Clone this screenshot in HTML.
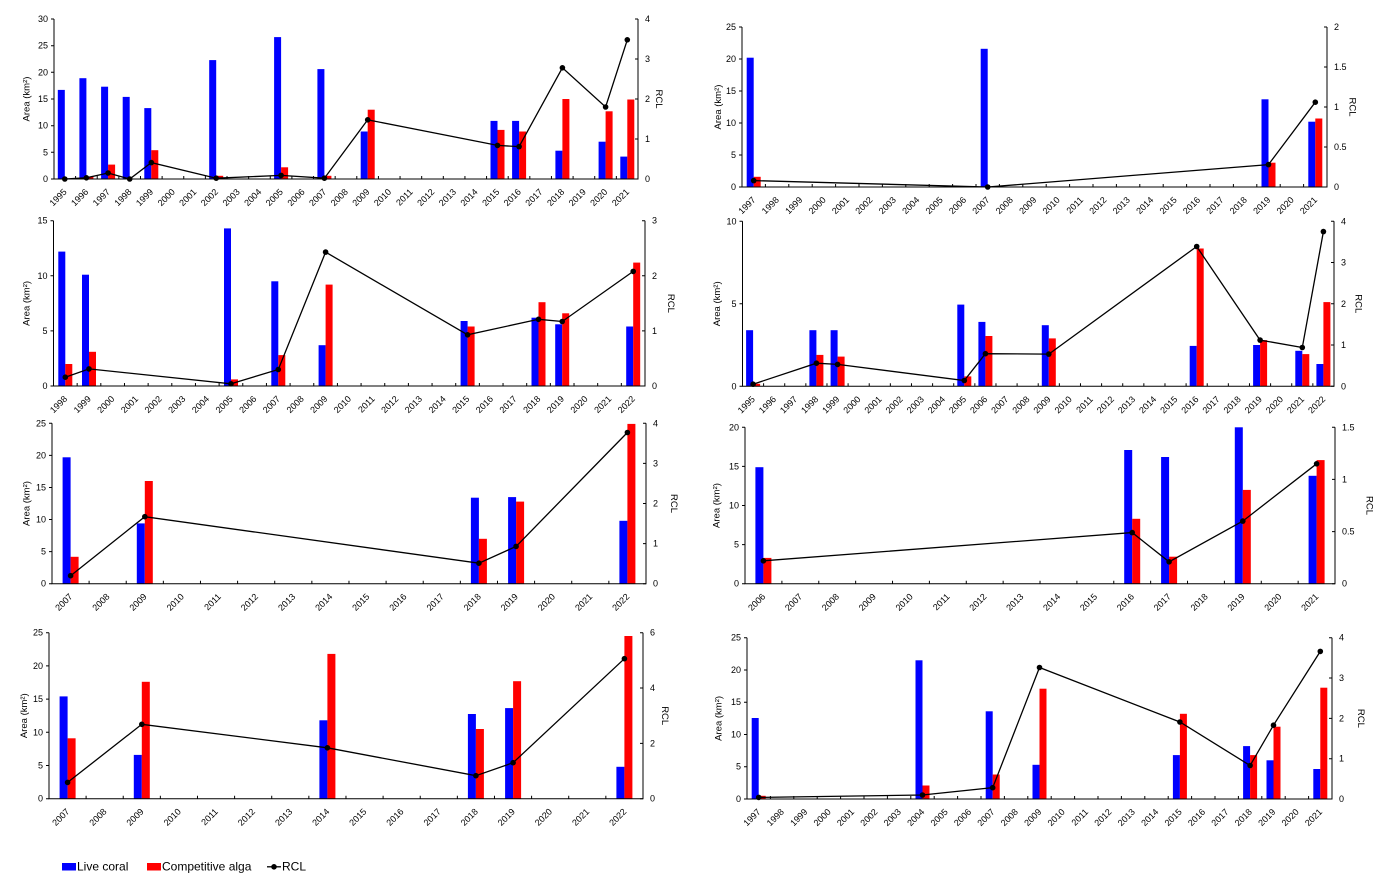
<!DOCTYPE html>
<html><head><meta charset="utf-8"><style>
html,body{margin:0;padding:0;background:#fff;}
svg{display:block;}
text{font-family:"Liberation Sans",Arial,sans-serif;font-size:9px;fill:#000;}
.xl{text-anchor:end;}
.yl{text-anchor:end;}
.yr{text-anchor:start;}
.t{text-anchor:middle;font-size:9.5px;}
.ax{fill:none;stroke:#000;stroke-width:1;}
.tk{fill:none;stroke:#000;stroke-width:1;}
.b{fill:#0000ff;}
.r{fill:#ff0000;}
.ln{fill:none;stroke:#000;stroke-width:1.3;}
.dot{fill:#000;}
.lg{font-size:12px;}
</style></head><body>
<svg width="1386" height="889" viewBox="0 0 1386 889" xmlns="http://www.w3.org/2000/svg">
<rect width="1386" height="889" fill="#fff"/>

<!-- ================= PANEL 1 ================= -->
<g>
<rect class="b" x="57.8" y="89.9" width="7" height="89.1"/>
<rect class="b" x="79.4" y="78.2" width="7" height="100.8"/>
<rect class="b" x="101.1" y="86.7" width="7" height="92.3"/>
<rect class="b" x="122.7" y="96.9" width="7" height="82.1"/>
<rect class="b" x="144.3" y="108.1" width="7" height="70.9"/>
<rect class="b" x="209.2" y="60.1" width="7" height="118.9"/>
<rect class="b" x="274.1" y="37.1" width="7" height="141.9"/>
<rect class="b" x="317.4" y="69.1" width="7" height="109.9"/>
<rect class="b" x="360.7" y="131.5" width="7" height="47.5"/>
<rect class="b" x="490.5" y="120.9" width="7" height="58.1"/>
<rect class="b" x="512.1" y="120.9" width="7" height="58.1"/>
<rect class="b" x="555.4" y="150.7" width="7" height="28.3"/>
<rect class="b" x="598.6" y="141.7" width="7" height="37.3"/>
<rect class="b" x="620.3" y="156.6" width="7" height="22.4"/>
<rect class="r" x="86.4" y="176.9" width="7" height="2.1"/>
<rect class="r" x="108.1" y="164.6" width="7" height="14.4"/>
<rect class="r" x="151.3" y="150.2" width="7" height="28.8"/>
<rect class="r" x="216.2" y="175.8" width="7" height="3.2"/>
<rect class="r" x="281.1" y="167.3" width="7" height="11.7"/>
<rect class="r" x="324.4" y="175.8" width="7" height="3.2"/>
<rect class="r" x="367.7" y="109.7" width="7" height="69.3"/>
<rect class="r" x="497.5" y="129.9" width="7" height="49.1"/>
<rect class="r" x="519.1" y="131.5" width="7" height="47.5"/>
<rect class="r" x="562.4" y="99" width="7" height="80"/>
<rect class="r" x="605.6" y="111.3" width="7" height="67.7"/>
<rect class="r" x="627.3" y="99.5" width="7" height="79.5"/>
<path class="ax" d="M54,19 V179 H638 V19"/>
<path class="tk" d="M51,179H54M51,152.3H54M51,125.7H54M51,99H54M51,72.3H54M51,45.7H54M51,19H54M635,179H638M635,139H638M635,99H638M635,59H638M635,19H638"/>
<line x1="75.1" y1="177.5" x2="637" y2="177.5" stroke="#000" stroke-width="3" stroke-dasharray="1 20.63"/>
<polyline class="ln" points="64.8,179 86.4,177.8 108.1,173 129.7,179 151.3,162.6 216.2,178.2 281.1,175.4 324.4,178.2 367.7,119.8 497.5,145.4 519.1,146.6 562.4,67.8 605.6,107 627.3,39.8"/>
<g class="dot"><circle cx="64.8" cy="179" r="2.8"/><circle cx="86.4" cy="177.8" r="2.8"/><circle cx="108.1" cy="173" r="2.8"/><circle cx="129.7" cy="179" r="2.8"/><circle cx="151.3" cy="162.6" r="2.8"/><circle cx="216.2" cy="178.2" r="2.8"/><circle cx="281.1" cy="175.4" r="2.8"/><circle cx="324.4" cy="178.2" r="2.8"/><circle cx="367.7" cy="119.8" r="2.8"/><circle cx="497.5" cy="145.4" r="2.8"/><circle cx="519.1" cy="146.6" r="2.8"/><circle cx="562.4" cy="67.8" r="2.8"/><circle cx="605.6" cy="107" r="2.8"/><circle cx="627.3" cy="39.8" r="2.8"/></g>
<text class="yl" x="48" y="182">0</text><text class="yl" x="48" y="155.3">5</text><text class="yl" x="48" y="128.7">10</text><text class="yl" x="48" y="102">15</text><text class="yl" x="48" y="75.3">20</text><text class="yl" x="48" y="48.7">25</text><text class="yl" x="48" y="22">30</text>
<text class="yr" x="645" y="182">0</text><text class="yr" x="645" y="142">1</text><text class="yr" x="645" y="102">2</text><text class="yr" x="645" y="62">3</text><text class="yr" x="645" y="22">4</text>
<text class="t" transform="translate(29.5,99) rotate(-90)">Area (km²)</text>
<text class="t" transform="translate(656.2,99) rotate(90)">RCL</text>
<text class="xl" transform="translate(67.3,192.5) rotate(-45)">1995</text>
<text class="xl" transform="translate(88.9,192.5) rotate(-45)">1996</text>
<text class="xl" transform="translate(110.6,192.5) rotate(-45)">1997</text>
<text class="xl" transform="translate(132.2,192.5) rotate(-45)">1998</text>
<text class="xl" transform="translate(153.8,192.5) rotate(-45)">1999</text>
<text class="xl" transform="translate(175.5,192.5) rotate(-45)">2000</text>
<text class="xl" transform="translate(197.1,192.5) rotate(-45)">2001</text>
<text class="xl" transform="translate(218.7,192.5) rotate(-45)">2002</text>
<text class="xl" transform="translate(240.4,192.5) rotate(-45)">2003</text>
<text class="xl" transform="translate(262,192.5) rotate(-45)">2004</text>
<text class="xl" transform="translate(283.6,192.5) rotate(-45)">2005</text>
<text class="xl" transform="translate(305.3,192.5) rotate(-45)">2006</text>
<text class="xl" transform="translate(326.9,192.5) rotate(-45)">2007</text>
<text class="xl" transform="translate(348.5,192.5) rotate(-45)">2008</text>
<text class="xl" transform="translate(370.2,192.5) rotate(-45)">2009</text>
<text class="xl" transform="translate(391.8,192.5) rotate(-45)">2010</text>
<text class="xl" transform="translate(413.4,192.5) rotate(-45)">2011</text>
<text class="xl" transform="translate(435.1,192.5) rotate(-45)">2012</text>
<text class="xl" transform="translate(456.7,192.5) rotate(-45)">2013</text>
<text class="xl" transform="translate(478.3,192.5) rotate(-45)">2014</text>
<text class="xl" transform="translate(500,192.5) rotate(-45)">2015</text>
<text class="xl" transform="translate(521.6,192.5) rotate(-45)">2016</text>
<text class="xl" transform="translate(543.2,192.5) rotate(-45)">2017</text>
<text class="xl" transform="translate(564.9,192.5) rotate(-45)">2018</text>
<text class="xl" transform="translate(586.5,192.5) rotate(-45)">2019</text>
<text class="xl" transform="translate(608.1,192.5) rotate(-45)">2020</text>
<text class="xl" transform="translate(629.8,192.5) rotate(-45)">2021</text>
</g>

<!-- ================= PANEL 2 ================= -->
<g>
<rect class="b" x="746.7" y="57.7" width="7" height="129.3"/>
<rect class="b" x="980.7" y="48.8" width="7" height="138.2"/>
<rect class="b" x="1261.5" y="99.3" width="7" height="87.7"/>
<rect class="b" x="1308.3" y="121.7" width="7" height="65.3"/>
<rect class="r" x="753.7" y="176.8" width="7" height="10.2"/>
<rect class="r" x="1268.5" y="162.7" width="7" height="24.3"/>
<rect class="r" x="1315.3" y="118.5" width="7" height="68.5"/>
<path class="ax" d="M742,27 V187 H1327 V27"/>
<path class="tk" d="M739,187H742M739,155H742M739,123H742M739,91H742M739,59H742M739,27H742M1324,187H1327M1324,147H1327M1324,107H1327M1324,67H1327M1324,27H1327"/>
<line x1="764.9" y1="185.5" x2="1326" y2="185.5" stroke="#000" stroke-width="3" stroke-dasharray="1 22.4"/>
<polyline class="ln" points="753.7,180.6 987.7,187 1268.5,164.6 1315.3,102.2"/>
<g class="dot"><circle cx="753.7" cy="180.6" r="2.8"/><circle cx="987.7" cy="187" r="2.8"/><circle cx="1268.5" cy="164.6" r="2.8"/><circle cx="1315.3" cy="102.2" r="2.8"/></g>
<text class="yl" x="736" y="190">0</text><text class="yl" x="736" y="158">5</text><text class="yl" x="736" y="126">10</text><text class="yl" x="736" y="94">15</text><text class="yl" x="736" y="62">20</text><text class="yl" x="736" y="30">25</text>
<text class="yr" x="1334" y="190">0</text><text class="yr" x="1334" y="150">0.5</text><text class="yr" x="1334" y="110">1</text><text class="yr" x="1334" y="70">1.5</text><text class="yr" x="1334" y="30">2</text>
<text class="t" transform="translate(720.8,107) rotate(-90)">Area (km²)</text>
<text class="t" transform="translate(1349.7,107) rotate(90)">RCL</text>
<text class="xl" transform="translate(756.2,200.5) rotate(-45)">1997</text>
<text class="xl" transform="translate(779.6,200.5) rotate(-45)">1998</text>
<text class="xl" transform="translate(803,200.5) rotate(-45)">1999</text>
<text class="xl" transform="translate(826.4,200.5) rotate(-45)">2000</text>
<text class="xl" transform="translate(849.8,200.5) rotate(-45)">2001</text>
<text class="xl" transform="translate(873.2,200.5) rotate(-45)">2002</text>
<text class="xl" transform="translate(896.6,200.5) rotate(-45)">2003</text>
<text class="xl" transform="translate(920,200.5) rotate(-45)">2004</text>
<text class="xl" transform="translate(943.4,200.5) rotate(-45)">2005</text>
<text class="xl" transform="translate(966.8,200.5) rotate(-45)">2006</text>
<text class="xl" transform="translate(990.2,200.5) rotate(-45)">2007</text>
<text class="xl" transform="translate(1013.6,200.5) rotate(-45)">2008</text>
<text class="xl" transform="translate(1037,200.5) rotate(-45)">2009</text>
<text class="xl" transform="translate(1060.4,200.5) rotate(-45)">2010</text>
<text class="xl" transform="translate(1083.8,200.5) rotate(-45)">2011</text>
<text class="xl" transform="translate(1107.2,200.5) rotate(-45)">2012</text>
<text class="xl" transform="translate(1130.6,200.5) rotate(-45)">2013</text>
<text class="xl" transform="translate(1154,200.5) rotate(-45)">2014</text>
<text class="xl" transform="translate(1177.4,200.5) rotate(-45)">2015</text>
<text class="xl" transform="translate(1200.8,200.5) rotate(-45)">2016</text>
<text class="xl" transform="translate(1224.2,200.5) rotate(-45)">2017</text>
<text class="xl" transform="translate(1247.6,200.5) rotate(-45)">2018</text>
<text class="xl" transform="translate(1271,200.5) rotate(-45)">2019</text>
<text class="xl" transform="translate(1294.4,200.5) rotate(-45)">2020</text>
<text class="xl" transform="translate(1317.8,200.5) rotate(-45)">2021</text>
</g>

<!-- ================= PANEL 3 ================= -->
<g>
<rect class="b" x="58.3" y="251.6" width="7" height="134.4"/>
<rect class="b" x="82" y="274.7" width="7" height="111.3"/>
<rect class="b" x="224" y="228.4" width="7" height="157.6"/>
<rect class="b" x="271.3" y="281.3" width="7" height="104.7"/>
<rect class="b" x="318.6" y="345.2" width="7" height="40.8"/>
<rect class="b" x="460.6" y="321" width="7" height="65"/>
<rect class="b" x="531.5" y="317.7" width="7" height="68.3"/>
<rect class="b" x="555.2" y="324.3" width="7" height="61.7"/>
<rect class="b" x="626.2" y="326.5" width="7" height="59.5"/>
<rect class="r" x="65.3" y="364" width="7" height="22"/>
<rect class="r" x="89" y="351.8" width="7" height="34.2"/>
<rect class="r" x="231" y="379.4" width="7" height="6.6"/>
<rect class="r" x="278.3" y="355.1" width="7" height="30.9"/>
<rect class="r" x="325.6" y="284.6" width="7" height="101.4"/>
<rect class="r" x="467.6" y="326.5" width="7" height="59.5"/>
<rect class="r" x="538.5" y="302.2" width="7" height="83.8"/>
<rect class="r" x="562.2" y="313.3" width="7" height="72.7"/>
<rect class="r" x="633.2" y="262.6" width="7" height="123.4"/>
<path class="ax" d="M53.5,220.7 V386 H645 V220.7"/>
<path class="tk" d="M50.5,386H53.5M50.5,330.9H53.5M50.5,275.8H53.5M50.5,220.7H53.5M642,386H645M642,330.9H645M642,275.8H645M642,220.7H645"/>
<line x1="76.66" y1="384.5" x2="644" y2="384.5" stroke="#000" stroke-width="3" stroke-dasharray="1 22.66"/>
<polyline class="ln" points="65.3,377.2 89,368.9 231,383.8 278.3,369.5 325.6,252.1 467.6,334.8 538.5,319.3 562.2,321.5 633.2,271.4"/>
<g class="dot"><circle cx="65.3" cy="377.2" r="2.8"/><circle cx="89" cy="368.9" r="2.8"/><circle cx="231" cy="383.8" r="2.8"/><circle cx="278.3" cy="369.5" r="2.8"/><circle cx="325.6" cy="252.1" r="2.8"/><circle cx="467.6" cy="334.8" r="2.8"/><circle cx="538.5" cy="319.3" r="2.8"/><circle cx="562.2" cy="321.5" r="2.8"/><circle cx="633.2" cy="271.4" r="2.8"/></g>
<text class="yl" x="47.5" y="389">0</text><text class="yl" x="47.5" y="333.9">5</text><text class="yl" x="47.5" y="278.8">10</text><text class="yl" x="47.5" y="223.7">15</text>
<text class="yr" x="652" y="389">0</text><text class="yr" x="652" y="333.9">1</text><text class="yr" x="652" y="278.8">2</text><text class="yr" x="652" y="223.7">3</text>
<text class="t" transform="translate(29.3,303.4) rotate(-90)">Area (km²)</text>
<text class="t" transform="translate(668.2,303.4) rotate(90)">RCL</text>
<text class="xl" transform="translate(67.8,399.5) rotate(-45)">1998</text>
<text class="xl" transform="translate(91.5,399.5) rotate(-45)">1999</text>
<text class="xl" transform="translate(115.1,399.5) rotate(-45)">2000</text>
<text class="xl" transform="translate(138.8,399.5) rotate(-45)">2001</text>
<text class="xl" transform="translate(162.4,399.5) rotate(-45)">2002</text>
<text class="xl" transform="translate(186.1,399.5) rotate(-45)">2003</text>
<text class="xl" transform="translate(209.8,399.5) rotate(-45)">2004</text>
<text class="xl" transform="translate(233.4,399.5) rotate(-45)">2005</text>
<text class="xl" transform="translate(257.1,399.5) rotate(-45)">2006</text>
<text class="xl" transform="translate(280.7,399.5) rotate(-45)">2007</text>
<text class="xl" transform="translate(304.4,399.5) rotate(-45)">2008</text>
<text class="xl" transform="translate(328.1,399.5) rotate(-45)">2009</text>
<text class="xl" transform="translate(351.7,399.5) rotate(-45)">2010</text>
<text class="xl" transform="translate(375.4,399.5) rotate(-45)">2011</text>
<text class="xl" transform="translate(399,399.5) rotate(-45)">2012</text>
<text class="xl" transform="translate(422.7,399.5) rotate(-45)">2013</text>
<text class="xl" transform="translate(446.4,399.5) rotate(-45)">2014</text>
<text class="xl" transform="translate(470,399.5) rotate(-45)">2015</text>
<text class="xl" transform="translate(493.7,399.5) rotate(-45)">2016</text>
<text class="xl" transform="translate(517.3,399.5) rotate(-45)">2017</text>
<text class="xl" transform="translate(541,399.5) rotate(-45)">2018</text>
<text class="xl" transform="translate(564.7,399.5) rotate(-45)">2019</text>
<text class="xl" transform="translate(588.3,399.5) rotate(-45)">2020</text>
<text class="xl" transform="translate(612,399.5) rotate(-45)">2021</text>
<text class="xl" transform="translate(635.6,399.5) rotate(-45)">2022</text>
</g>

<!-- ================= PANEL 4 ================= -->
<g>
<rect class="b" x="746.1" y="330.2" width="7" height="56.1"/>
<rect class="b" x="809.4" y="330.2" width="7" height="56.1"/>
<rect class="b" x="830.6" y="330.2" width="7" height="56.1"/>
<rect class="b" x="957.3" y="304.6" width="7" height="81.7"/>
<rect class="b" x="978.4" y="321.9" width="7" height="64.4"/>
<rect class="b" x="1041.8" y="325.2" width="7" height="61.1"/>
<rect class="b" x="1189.7" y="345.9" width="7" height="40.4"/>
<rect class="b" x="1253.1" y="345" width="7" height="41.3"/>
<rect class="b" x="1295.3" y="350.8" width="7" height="35.5"/>
<rect class="b" x="1316.4" y="364" width="7" height="22.3"/>
<rect class="r" x="753.1" y="383.8" width="7" height="2.5"/>
<rect class="r" x="816.4" y="354.9" width="7" height="31.4"/>
<rect class="r" x="837.6" y="356.6" width="7" height="29.7"/>
<rect class="r" x="964.3" y="376.4" width="7" height="9.9"/>
<rect class="r" x="985.4" y="336" width="7" height="50.3"/>
<rect class="r" x="1048.8" y="338.4" width="7" height="47.9"/>
<rect class="r" x="1196.7" y="248.5" width="7" height="137.8"/>
<rect class="r" x="1260.1" y="340.1" width="7" height="46.2"/>
<rect class="r" x="1302.3" y="354.1" width="7" height="32.2"/>
<rect class="r" x="1323.4" y="302.1" width="7" height="84.2"/>
<path class="ax" d="M742.5,221.3 V386.3 H1334 V221.3"/>
<path class="tk" d="M739.5,386.3H742.5M739.5,303.8H742.5M739.5,221.3H742.5M1331,386.3H1334M1331,345H1334M1331,303.8H1334M1331,262.5H1334M1331,221.3H1334"/>
<line x1="763.1" y1="384.8" x2="1333" y2="384.8" stroke="#000" stroke-width="3" stroke-dasharray="1 20.125"/>
<polyline class="ln" points="753.1,384.2 816.4,363.2 837.6,364.4 964.3,380.5 985.4,353.7 1048.8,354.1 1196.7,246.5 1260.1,340.1 1302.3,347.5 1323.4,231.6"/>
<g class="dot"><circle cx="753.1" cy="384.2" r="2.8"/><circle cx="816.4" cy="363.2" r="2.8"/><circle cx="837.6" cy="364.4" r="2.8"/><circle cx="964.3" cy="380.5" r="2.8"/><circle cx="985.4" cy="353.7" r="2.8"/><circle cx="1048.8" cy="354.1" r="2.8"/><circle cx="1196.7" cy="246.5" r="2.8"/><circle cx="1260.1" cy="340.1" r="2.8"/><circle cx="1302.3" cy="347.5" r="2.8"/><circle cx="1323.4" cy="231.6" r="2.8"/></g>
<text class="yl" x="736.5" y="389.3">0</text><text class="yl" x="736.5" y="306.8">5</text><text class="yl" x="736.5" y="224.3">10</text>
<text class="yr" x="1341" y="389.3">0</text><text class="yr" x="1341" y="348">1</text><text class="yr" x="1341" y="306.8">2</text><text class="yr" x="1341" y="265.5">3</text><text class="yr" x="1341" y="224.3">4</text>
<text class="t" transform="translate(719.8,303.8) rotate(-90)">Area (km²)</text>
<text class="t" transform="translate(1355.7,303.8) rotate(90)">RCL</text>
<text class="xl" transform="translate(755.6,399.8) rotate(-45)">1995</text>
<text class="xl" transform="translate(776.7,399.8) rotate(-45)">1996</text>
<text class="xl" transform="translate(797.8,399.8) rotate(-45)">1997</text>
<text class="xl" transform="translate(818.9,399.8) rotate(-45)">1998</text>
<text class="xl" transform="translate(840.1,399.8) rotate(-45)">1999</text>
<text class="xl" transform="translate(861.2,399.8) rotate(-45)">2000</text>
<text class="xl" transform="translate(882.3,399.8) rotate(-45)">2001</text>
<text class="xl" transform="translate(903.4,399.8) rotate(-45)">2002</text>
<text class="xl" transform="translate(924.6,399.8) rotate(-45)">2003</text>
<text class="xl" transform="translate(945.7,399.8) rotate(-45)">2004</text>
<text class="xl" transform="translate(966.8,399.8) rotate(-45)">2005</text>
<text class="xl" transform="translate(987.9,399.8) rotate(-45)">2006</text>
<text class="xl" transform="translate(1009.1,399.8) rotate(-45)">2007</text>
<text class="xl" transform="translate(1030.2,399.8) rotate(-45)">2008</text>
<text class="xl" transform="translate(1051.3,399.8) rotate(-45)">2009</text>
<text class="xl" transform="translate(1072.4,399.8) rotate(-45)">2010</text>
<text class="xl" transform="translate(1093.6,399.8) rotate(-45)">2011</text>
<text class="xl" transform="translate(1114.7,399.8) rotate(-45)">2012</text>
<text class="xl" transform="translate(1135.8,399.8) rotate(-45)">2013</text>
<text class="xl" transform="translate(1156.9,399.8) rotate(-45)">2014</text>
<text class="xl" transform="translate(1178.1,399.8) rotate(-45)">2015</text>
<text class="xl" transform="translate(1199.2,399.8) rotate(-45)">2016</text>
<text class="xl" transform="translate(1220.3,399.8) rotate(-45)">2017</text>
<text class="xl" transform="translate(1241.4,399.8) rotate(-45)">2018</text>
<text class="xl" transform="translate(1262.6,399.8) rotate(-45)">2019</text>
<text class="xl" transform="translate(1283.7,399.8) rotate(-45)">2020</text>
<text class="xl" transform="translate(1304.8,399.8) rotate(-45)">2021</text>
<text class="xl" transform="translate(1325.9,399.8) rotate(-45)">2022</text>
</g>

<!-- ================= PANEL 5 ================= -->
<g>
<rect class="b" x="62.6" y="457.3" width="8" height="126.4"/>
<rect class="b" x="136.8" y="523.4" width="8" height="60.3"/>
<rect class="b" x="470.9" y="497.7" width="8" height="86"/>
<rect class="b" x="508.1" y="497.1" width="8" height="86.6"/>
<rect class="b" x="619.4" y="520.8" width="8" height="62.9"/>
<rect class="r" x="70.6" y="556.8" width="8" height="26.9"/>
<rect class="r" x="144.8" y="481" width="8" height="102.7"/>
<rect class="r" x="478.9" y="538.8" width="8" height="44.9"/>
<rect class="r" x="516.1" y="501.6" width="8" height="82.1"/>
<rect class="r" x="627.4" y="423.9" width="8" height="159.8"/>
<path class="ax" d="M52,423.3 V583.7 H646 V423.3"/>
<path class="tk" d="M49,583.7H52M49,551.6H52M49,519.5H52M49,487.5H52M49,455.4H52M49,423.3H52M643,583.7H646M643,543.6H646M643,503.5H646M643,463.4H646M643,423.3H646"/>
<line x1="88.6" y1="582.2" x2="645" y2="582.2" stroke="#000" stroke-width="3" stroke-dasharray="1 36.125"/>
<polyline class="ln" points="70.6,575.7 144.8,516.7 478.9,563.2 516.1,546.4 627.4,432.5"/>
<g class="dot"><circle cx="70.6" cy="575.7" r="2.8"/><circle cx="144.8" cy="516.7" r="2.8"/><circle cx="478.9" cy="563.2" r="2.8"/><circle cx="516.1" cy="546.4" r="2.8"/><circle cx="627.4" cy="432.5" r="2.8"/></g>
<text class="yl" x="46" y="586.7">0</text><text class="yl" x="46" y="554.6">5</text><text class="yl" x="46" y="522.5">10</text><text class="yl" x="46" y="490.5">15</text><text class="yl" x="46" y="458.4">20</text><text class="yl" x="46" y="426.3">25</text>
<text class="yr" x="653" y="586.7">0</text><text class="yr" x="653" y="546.6">1</text><text class="yr" x="653" y="506.5">2</text><text class="yr" x="653" y="466.4">3</text><text class="yr" x="653" y="426.3">4</text>
<text class="t" transform="translate(29.3,503.5) rotate(-90)">Area (km²)</text>
<text class="t" transform="translate(671.2,503.5) rotate(90)">RCL</text>
<text class="xl" transform="translate(73.1,597.2) rotate(-45)">2007</text>
<text class="xl" transform="translate(110.2,597.2) rotate(-45)">2008</text>
<text class="xl" transform="translate(147.3,597.2) rotate(-45)">2009</text>
<text class="xl" transform="translate(184.5,597.2) rotate(-45)">2010</text>
<text class="xl" transform="translate(221.6,597.2) rotate(-45)">2011</text>
<text class="xl" transform="translate(258.7,597.2) rotate(-45)">2012</text>
<text class="xl" transform="translate(295.9,597.2) rotate(-45)">2013</text>
<text class="xl" transform="translate(333,597.2) rotate(-45)">2014</text>
<text class="xl" transform="translate(370.1,597.2) rotate(-45)">2015</text>
<text class="xl" transform="translate(407.2,597.2) rotate(-45)">2016</text>
<text class="xl" transform="translate(444.4,597.2) rotate(-45)">2017</text>
<text class="xl" transform="translate(481.5,597.2) rotate(-45)">2018</text>
<text class="xl" transform="translate(518.6,597.2) rotate(-45)">2019</text>
<text class="xl" transform="translate(555.7,597.2) rotate(-45)">2020</text>
<text class="xl" transform="translate(592.9,597.2) rotate(-45)">2021</text>
<text class="xl" transform="translate(630,597.2) rotate(-45)">2022</text>
</g>

<!-- ================= PANEL 6 ================= -->
<g>
<rect class="b" x="755.4" y="467.2" width="8" height="116.5"/>
<rect class="b" x="1124.2" y="450" width="8" height="133.7"/>
<rect class="b" x="1161.1" y="457" width="8" height="126.7"/>
<rect class="b" x="1234.8" y="427.3" width="8" height="156.4"/>
<rect class="b" x="1308.6" y="475.8" width="8" height="107.9"/>
<rect class="r" x="763.4" y="557.9" width="8" height="25.8"/>
<rect class="r" x="1132.2" y="518.8" width="8" height="64.9"/>
<rect class="r" x="1169.1" y="556.7" width="8" height="27"/>
<rect class="r" x="1242.8" y="489.9" width="8" height="93.8"/>
<rect class="r" x="1316.6" y="460.1" width="8" height="123.6"/>
<path class="ax" d="M745,427.3 V583.7 H1335 V427.3"/>
<path class="tk" d="M742,583.7H745M742,544.6H745M742,505.5H745M742,466.4H745M742,427.3H745M1332,583.7H1335M1332,531.6H1335M1332,479.4H1335M1332,427.3H1335"/>
<line x1="781.4" y1="582.2" x2="1334" y2="582.2" stroke="#000" stroke-width="3" stroke-dasharray="1 35.875"/>
<polyline class="ln" points="763.4,560.8 1132.2,532.6 1169.1,561.8 1242.8,521.1 1316.6,463.8"/>
<g class="dot"><circle cx="763.4" cy="560.8" r="2.8"/><circle cx="1132.2" cy="532.6" r="2.8"/><circle cx="1169.1" cy="561.8" r="2.8"/><circle cx="1242.8" cy="521.1" r="2.8"/><circle cx="1316.6" cy="463.8" r="2.8"/></g>
<text class="yl" x="739" y="586.7">0</text><text class="yl" x="739" y="547.6">5</text><text class="yl" x="739" y="508.5">10</text><text class="yl" x="739" y="469.4">15</text><text class="yl" x="739" y="430.3">20</text>
<text class="yr" x="1342" y="586.7">0</text><text class="yr" x="1342" y="534.6">0.5</text><text class="yr" x="1342" y="482.4">1</text><text class="yr" x="1342" y="430.3">1.5</text>
<text class="t" transform="translate(719.3,505.5) rotate(-90)">Area (km²)</text>
<text class="t" transform="translate(1366.7,505.5) rotate(90)">RCL</text>
<text class="xl" transform="translate(765.9,597.2) rotate(-45)">2006</text>
<text class="xl" transform="translate(802.8,597.2) rotate(-45)">2007</text>
<text class="xl" transform="translate(839.7,597.2) rotate(-45)">2008</text>
<text class="xl" transform="translate(876.5,597.2) rotate(-45)">2009</text>
<text class="xl" transform="translate(913.4,597.2) rotate(-45)">2010</text>
<text class="xl" transform="translate(950.3,597.2) rotate(-45)">2011</text>
<text class="xl" transform="translate(987.2,597.2) rotate(-45)">2012</text>
<text class="xl" transform="translate(1024,597.2) rotate(-45)">2013</text>
<text class="xl" transform="translate(1060.9,597.2) rotate(-45)">2014</text>
<text class="xl" transform="translate(1097.8,597.2) rotate(-45)">2015</text>
<text class="xl" transform="translate(1134.7,597.2) rotate(-45)">2016</text>
<text class="xl" transform="translate(1171.5,597.2) rotate(-45)">2017</text>
<text class="xl" transform="translate(1208.4,597.2) rotate(-45)">2018</text>
<text class="xl" transform="translate(1245.3,597.2) rotate(-45)">2019</text>
<text class="xl" transform="translate(1282.2,597.2) rotate(-45)">2020</text>
<text class="xl" transform="translate(1319,597.2) rotate(-45)">2021</text>
</g>

<!-- ================= PANEL 7 ================= -->
<g>
<rect class="b" x="59.6" y="696.4" width="8" height="102.3"/>
<rect class="b" x="133.8" y="754.9" width="8" height="43.8"/>
<rect class="b" x="319.4" y="720.3" width="8" height="78.4"/>
<rect class="b" x="467.9" y="714" width="8" height="84.7"/>
<rect class="b" x="505.1" y="708.1" width="8" height="90.6"/>
<rect class="b" x="616.4" y="766.8" width="8" height="31.9"/>
<rect class="r" x="67.6" y="738.3" width="8" height="60.4"/>
<rect class="r" x="141.8" y="681.8" width="8" height="116.9"/>
<rect class="r" x="327.4" y="653.9" width="8" height="144.8"/>
<rect class="r" x="475.9" y="729" width="8" height="69.7"/>
<rect class="r" x="513.1" y="681.2" width="8" height="117.5"/>
<rect class="r" x="624.4" y="636" width="8" height="162.7"/>
<path class="ax" d="M49,632.7 V798.7 H643 V632.7"/>
<path class="tk" d="M46,798.7H49M46,765.5H49M46,732.3H49M46,699.1H49M46,665.9H49M46,632.7H49M640,798.7H643M640,743.4H643M640,688H643M640,632.7H643"/>
<line x1="85.6" y1="797.2" x2="642" y2="797.2" stroke="#000" stroke-width="3" stroke-dasharray="1 36.125"/>
<polyline class="ln" points="67.6,782.4 141.8,724.3 327.4,747.8 475.9,775.7 513.1,762.7 624.4,658.7"/>
<g class="dot"><circle cx="67.6" cy="782.4" r="2.8"/><circle cx="141.8" cy="724.3" r="2.8"/><circle cx="327.4" cy="747.8" r="2.8"/><circle cx="475.9" cy="775.7" r="2.8"/><circle cx="513.1" cy="762.7" r="2.8"/><circle cx="624.4" cy="658.7" r="2.8"/></g>
<text class="yl" x="43" y="801.7">0</text><text class="yl" x="43" y="768.5">5</text><text class="yl" x="43" y="735.3">10</text><text class="yl" x="43" y="702.1">15</text><text class="yl" x="43" y="668.9">20</text><text class="yl" x="43" y="635.7">25</text>
<text class="yr" x="650" y="801.7">0</text><text class="yr" x="650" y="746.4">2</text><text class="yr" x="650" y="691">4</text><text class="yr" x="650" y="635.7">6</text>
<text class="t" transform="translate(26.8,715.7) rotate(-90)">Area (km²)</text>
<text class="t" transform="translate(662.2,715.7) rotate(90)">RCL</text>
<text class="xl" transform="translate(70.1,812.2) rotate(-45)">2007</text>
<text class="xl" transform="translate(107.2,812.2) rotate(-45)">2008</text>
<text class="xl" transform="translate(144.3,812.2) rotate(-45)">2009</text>
<text class="xl" transform="translate(181.5,812.2) rotate(-45)">2010</text>
<text class="xl" transform="translate(218.6,812.2) rotate(-45)">2011</text>
<text class="xl" transform="translate(255.7,812.2) rotate(-45)">2012</text>
<text class="xl" transform="translate(292.9,812.2) rotate(-45)">2013</text>
<text class="xl" transform="translate(330,812.2) rotate(-45)">2014</text>
<text class="xl" transform="translate(367.1,812.2) rotate(-45)">2015</text>
<text class="xl" transform="translate(404.2,812.2) rotate(-45)">2016</text>
<text class="xl" transform="translate(441.4,812.2) rotate(-45)">2017</text>
<text class="xl" transform="translate(478.5,812.2) rotate(-45)">2018</text>
<text class="xl" transform="translate(515.6,812.2) rotate(-45)">2019</text>
<text class="xl" transform="translate(552.7,812.2) rotate(-45)">2020</text>
<text class="xl" transform="translate(589.9,812.2) rotate(-45)">2021</text>
<text class="xl" transform="translate(627,812.2) rotate(-45)">2022</text>
</g>

<!-- ================= PANEL 8 ================= -->
<g>
<rect class="b" x="751.7" y="718" width="7" height="81"/>
<rect class="b" x="915.5" y="660.3" width="7" height="138.7"/>
<rect class="b" x="985.7" y="711.3" width="7" height="87.7"/>
<rect class="b" x="1032.5" y="764.8" width="7" height="34.2"/>
<rect class="b" x="1172.9" y="755.1" width="7" height="43.9"/>
<rect class="b" x="1243.1" y="746.1" width="7" height="52.9"/>
<rect class="b" x="1266.5" y="760.3" width="7" height="38.7"/>
<rect class="b" x="1313.3" y="769" width="7" height="30"/>
<rect class="r" x="758.7" y="795.8" width="7" height="3.2"/>
<rect class="r" x="922.5" y="785.5" width="7" height="13.5"/>
<rect class="r" x="992.7" y="774.5" width="7" height="24.5"/>
<rect class="r" x="1039.5" y="688.7" width="7" height="110.3"/>
<rect class="r" x="1179.9" y="713.8" width="7" height="85.2"/>
<rect class="r" x="1250.1" y="755.1" width="7" height="43.9"/>
<rect class="r" x="1273.5" y="726.7" width="7" height="72.3"/>
<rect class="r" x="1320.3" y="687.7" width="7" height="111.3"/>
<path class="ax" d="M747,637.7 V799 H1332 V637.7"/>
<path class="tk" d="M744,799H747M744,766.7H747M744,734.5H747M744,702.2H747M744,670H747M744,637.7H747M1329,799H1332M1329,758.7H1332M1329,718.4H1332M1329,678H1332M1329,637.7H1332"/>
<line x1="769.9" y1="797.5" x2="1331" y2="797.5" stroke="#000" stroke-width="3" stroke-dasharray="1 22.4"/>
<polyline class="ln" points="758.7,797.4 922.5,795 992.7,787.7 1039.5,667.5 1179.9,722 1250.1,765.5 1273.5,725.2 1320.3,651.4"/>
<g class="dot"><circle cx="758.7" cy="797.4" r="2.8"/><circle cx="922.5" cy="795" r="2.8"/><circle cx="992.7" cy="787.7" r="2.8"/><circle cx="1039.5" cy="667.5" r="2.8"/><circle cx="1179.9" cy="722" r="2.8"/><circle cx="1250.1" cy="765.5" r="2.8"/><circle cx="1273.5" cy="725.2" r="2.8"/><circle cx="1320.3" cy="651.4" r="2.8"/></g>
<text class="yl" x="741" y="802">0</text><text class="yl" x="741" y="769.7">5</text><text class="yl" x="741" y="737.5">10</text><text class="yl" x="741" y="705.2">15</text><text class="yl" x="741" y="673">20</text><text class="yl" x="741" y="640.7">25</text>
<text class="yr" x="1339" y="802">0</text><text class="yr" x="1339" y="761.7">1</text><text class="yr" x="1339" y="721.4">2</text><text class="yr" x="1339" y="681">3</text><text class="yr" x="1339" y="640.7">4</text>
<text class="t" transform="translate(721.3,718.4) rotate(-90)">Area (km²)</text>
<text class="t" transform="translate(1358.2,718.4) rotate(90)">RCL</text>
<text class="xl" transform="translate(761.2,812.5) rotate(-45)">1997</text>
<text class="xl" transform="translate(784.6,812.5) rotate(-45)">1998</text>
<text class="xl" transform="translate(808,812.5) rotate(-45)">1999</text>
<text class="xl" transform="translate(831.4,812.5) rotate(-45)">2000</text>
<text class="xl" transform="translate(854.8,812.5) rotate(-45)">2001</text>
<text class="xl" transform="translate(878.2,812.5) rotate(-45)">2002</text>
<text class="xl" transform="translate(901.6,812.5) rotate(-45)">2003</text>
<text class="xl" transform="translate(925,812.5) rotate(-45)">2004</text>
<text class="xl" transform="translate(948.4,812.5) rotate(-45)">2005</text>
<text class="xl" transform="translate(971.8,812.5) rotate(-45)">2006</text>
<text class="xl" transform="translate(995.2,812.5) rotate(-45)">2007</text>
<text class="xl" transform="translate(1018.6,812.5) rotate(-45)">2008</text>
<text class="xl" transform="translate(1042,812.5) rotate(-45)">2009</text>
<text class="xl" transform="translate(1065.4,812.5) rotate(-45)">2010</text>
<text class="xl" transform="translate(1088.8,812.5) rotate(-45)">2011</text>
<text class="xl" transform="translate(1112.2,812.5) rotate(-45)">2012</text>
<text class="xl" transform="translate(1135.6,812.5) rotate(-45)">2013</text>
<text class="xl" transform="translate(1159,812.5) rotate(-45)">2014</text>
<text class="xl" transform="translate(1182.4,812.5) rotate(-45)">2015</text>
<text class="xl" transform="translate(1205.8,812.5) rotate(-45)">2016</text>
<text class="xl" transform="translate(1229.2,812.5) rotate(-45)">2017</text>
<text class="xl" transform="translate(1252.6,812.5) rotate(-45)">2018</text>
<text class="xl" transform="translate(1276,812.5) rotate(-45)">2019</text>
<text class="xl" transform="translate(1299.4,812.5) rotate(-45)">2020</text>
<text class="xl" transform="translate(1322.8,812.5) rotate(-45)">2021</text>
</g>

<!-- ================= LEGEND ================= -->
<g>
<rect class="b" x="62" y="863" width="14" height="7.5"/>
<text class="lg" x="77" y="870.5">Live coral</text>
<rect class="r" x="147" y="863" width="14" height="7.5"/>
<text class="lg" x="162" y="870.5">Competitive alga</text>
<line x1="267" y1="866.8" x2="281" y2="866.8" stroke="#000" stroke-width="1.3"/>
<circle class="dot" cx="274" cy="866.8" r="2.8"/>
<text class="lg" x="282" y="870.5">RCL</text>
</g>
</svg>
</body></html>
